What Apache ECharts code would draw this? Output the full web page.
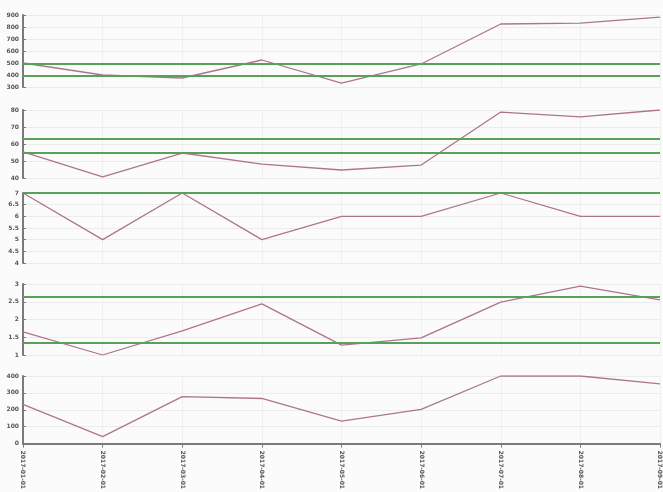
<!DOCTYPE html>
<html>
<head>
<meta charset="utf-8">
<script src="https://cdn.jsdelivr.net/npm/echarts@6/dist/echarts.min.js"></script>
<style>html,body{margin:0;padding:0;background:#fbfbfb;}#c{width:663px;height:492px;}</style>
</head>
<body>
<div id="c"></div>
<script>
var categories = ['2017-01-01','2017-02-01','2017-03-01','2017-04-01','2017-05-01','2017-06-01','2017-07-01','2017-08-01','2017-09-01'];
var series1 = [500, 400, 375, 525, 333, 492, 825, 833, 883];
var series2 = [55.3, 40.6, 54.7, 48.2, 44.7, 47.6, 78.8, 75.9, 80];
var series3 = [7, 5, 7, 5, 6, 6, 7, 6, 6];
var series4 = [1.65, 1.0, 1.68, 2.44, 1.28, 1.48, 2.49, 2.94, 2.55];
var series5 = [232, 41, 278, 267, 133, 203, 400, 400, 354];
var limits1 = [492, 392];
var limits2 = [62.9, 54.7];
var limits3 = [7];
var limits4 = [2.63, 1.34];
var limits5 = [];
var yRanges = [[300, 900, 100], [40, 80, 10], [4, 7, 0.5], [1, 3, 0.5], [0, 400, 100]];

var panels = [
  {top: 15, height: 72, data: series1, lim: limits1},
  {top: 110, height: 68, data: series2, lim: limits2},
  {top: 193, height: 70, data: series3, lim: limits3},
  {top: 284, height: 71, data: series4, lim: limits4},
  {top: 376, height: 69, data: series5, lim: limits5}
];

var grids = [], xAxes = [], yAxes = [], ser = [];
panels.forEach(function (p, i) {
  var last = i === panels.length - 1;
  grids.push({left: 23, right: 3, top: p.top, height: p.height});
  xAxes.push({
    type: 'category', gridIndex: i, data: categories, boundaryGap: false,
    axisLine: {show: last, lineStyle: {color: '#7a7a7a', width: 2}},
    axisTick: {show: last, length: 4, lineStyle: {color: '#7a7a7a'}},
    axisLabel: {show: last, rotate: -90, fontSize: 6, color: '#555', margin: 7, fontFamily: 'DejaVu Sans', fontWeight: 'bold'},
    splitLine: {show: true, lineStyle: {color: '#f0f0f0', width: 1}}
  });
  yAxes.push({
    type: 'value', gridIndex: i, min: yRanges[i][0], max: yRanges[i][1], interval: yRanges[i][2],
    axisLine: {show: true, lineStyle: {color: '#7a7a7a', width: 2}},
    axisTick: {show: true, inside: true, length: 3, lineStyle: {color: '#7a7a7a'}},
    axisLabel: {fontSize: 6, color: '#555', margin: 4, fontFamily: 'DejaVu Sans', fontWeight: 'bold'},
    splitLine: {show: true, lineStyle: {color: '#ececec', width: 1}}
  });
  ser.push({
    type: 'line', xAxisIndex: i, yAxisIndex: i, data: p.data, symbol: 'none',
    lineStyle: {color: '#ad7490', width: 1.3},
    markLine: p.lim.length ? {
      silent: true, symbol: 'none', label: {show: false},
      lineStyle: {color: '#57a257', width: 2, type: 'solid'},
      data: p.lim.map(function (v) { return {yAxis: v}; })
    } : undefined
  });
});

var chart = echarts.init(document.getElementById('c'));
chart.setOption({
  backgroundColor: '#fbfbfb',
  animation: false,
  grid: grids, xAxis: xAxes, yAxis: yAxes, series: ser
});
</script>
</body>
</html>
